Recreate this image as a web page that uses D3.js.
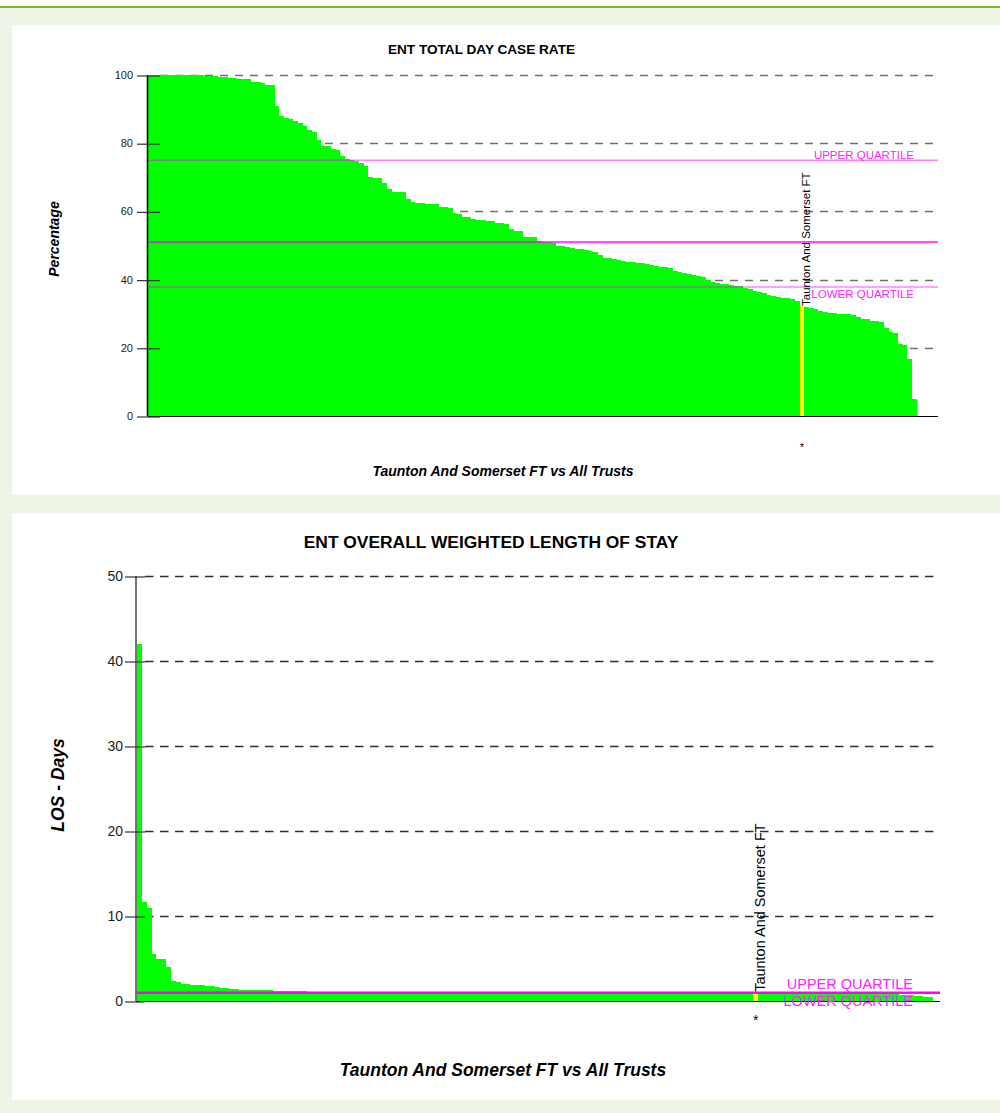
<!DOCTYPE html>
<html>
<head>
<meta charset="utf-8">
<script src="https://cdn.jsdelivr.net/npm/d3@7"></script>
<style>
  html, body { margin: 0; padding: 0; background: #ffffff; }
  svg { display: block; font-family: "Liberation Sans", Arial, sans-serif; }
</style>
</head>
<body>
<svg id="chart" width="1000" height="1113"></svg>
<script>
// ---------------- DATA ----------------
const trustName = "Taunton And Somerset FT";
const xAxisLabel = "Taunton And Somerset FT vs All Trusts";

// Chart 1: ENT total day case rate (%) – all trusts, sorted descending
const dayCaseTitle = "ENT TOTAL DAY CASE RATE";
const dayCaseYLabel = "Percentage";
const dayCaseTicks = [0, 20, 40, 60, 80, 100];
const dayCaseRate = [
  100, 100, 100, 100, 100, 100, 100, 100, 100, 100,
  99.9, 99.9, 99.8, 99.8, 99.7, 99.5, 99.4, 99.2, 99.0, 98.9,
  98.8, 98.7, 97.9, 97.9, 97.8, 97.1, 97.0, 91.0, 88.1, 87.5,
  87.0, 86.5, 85.8, 85.1, 83.8, 83.4, 80.9, 79.3, 79.2, 78.2,
  78.1, 76.2, 75.3, 75.2, 74.9, 74.1, 73.3, 70.0, 69.9, 69.7,
  68.2, 66.7, 65.8, 65.7, 65.6, 63.6, 62.8, 62.6, 62.4, 62.3,
  62.2, 62.1, 61.4, 61.2, 61.1, 59.6, 59.2, 58.4, 58.3, 57.9,
  57.5, 57.4, 57.3, 57.2, 56.7, 56.5, 56.2, 54.7, 54.3, 54.2,
  52.6, 52.5, 52.4, 51.3, 51.1, 51.0, 50.8, 49.9, 49.8, 49.6,
  49.2, 49.0, 48.9, 48.7, 48.4, 48.2, 47.2, 46.4, 46.2, 46.0,
  45.7, 45.4, 45.3, 45.1, 44.9, 44.8, 44.6, 44.3, 43.9, 43.8,
  43.6, 43.3, 42.4, 42.2, 41.9, 41.6, 41.3, 41.1, 40.9, 39.9,
  39.2, 39.0, 38.8, 38.6, 38.4, 38.2, 38.0, 37.5, 37.2, 36.8,
  36.4, 36.0, 35.6, 35.1, 34.9, 34.7, 34.5, 34.2, 33.8, 32.4,
  31.9, 31.6, 31.4, 30.9, 30.4, 30.3, 30.2, 29.9, 29.8, 29.8,
  29.7, 29.1, 28.5, 28.4, 27.9, 27.8, 27.6, 25.9, 24.7, 24.4,
  21.0, 20.8, 16.7, 5.0
];
const dayCaseHighlight = 139;               // index of Taunton And Somerset FT
const dayCaseQuartiles = [75.0, 51.0, 37.8]; // upper, median, lower

// Chart 2: ENT overall weighted length of stay (days)
const losTitle = "ENT OVERALL WEIGHTED LENGTH OF STAY";
const losYLabel = "LOS - Days";
const losTicks = [0, 10, 20, 30, 40, 50];
const losDays = [
  42.0, 11.6, 11.0, 5.5, 5.0, 5.0, 4.0,
  2.4, 2.2, 2.05, 2.0, 1.9, 1.88, 1.86, 1.78, 1.75, 1.62, 1.58, 1.48, 1.45, 1.42,
  1.34, 1.32, 1.30, 1.29, 1.28, 1.27,
  1.25, 1.23, 1.21, 1.19, 1.17, 1.15, 1.14, 1.12, 1.11, 1.10, 1.08, 1.07, 1.06, 1.05, 1.04,
  1.03, 1.03, 1.03, 1.02, 1.02, 1.02, 1.02, 1.01, 1.01, 1.01,
  1.01, 1.00, 1.00, 1.00, 1.00, 1.00, 1.00, 0.99, 0.99, 0.99,
  0.99, 0.99, 0.99, 0.99, 0.98, 0.98, 0.98, 0.98, 0.98, 0.98,
  0.98, 0.98, 0.97, 0.97, 0.97, 0.97, 0.97, 0.97, 0.97, 0.97,
  0.97,
  0.97, 0.96, 0.96, 0.96, 0.96, 0.96, 0.96, 0.96, 0.96, 0.96,
  0.95, 0.95, 0.95, 0.95, 0.95, 0.95, 0.95, 0.95, 0.95, 0.95,
  0.94, 0.94, 0.94, 0.94, 0.94, 0.94, 0.94, 0.94, 0.94, 0.93,
  0.93, 0.93, 0.93, 0.93, 0.93, 0.93, 0.93, 0.92, 0.92, 0.92,
  0.92,
  0.92, 0.91, 0.91,
  0.90,
  0.90, 0.90, 0.90, 0.89, 0.89, 0.89, 0.89, 0.88, 0.88, 0.88,
  0.88, 0.87, 0.87, 0.87, 0.86, 0.86, 0.86, 0.85, 0.85, 0.85,
  0.84, 0.84, 0.83, 0.83, 0.82, 0.82, 0.81, 0.80, 0.78, 0.76,
  0.72, 0.68, 0.64, 0.58, 0.52, 0.45
];
const losHighlight = 127;
const losQuartiles = [1.03, 0.97, 0.92];

const quartileNames = ["UPPER QUARTILE", "LOWER QUARTILE"];

// ---------------- DRAW ----------------
const svg = d3.select("#chart");
const W = 1000, H = 1113;

svg.append("rect").attr("width", W).attr("height", H).attr("fill", "#eef4e5");
svg.append("rect").attr("x", 0).attr("y", 0).attr("width", W).attr("height", 6).attr("fill", "#ffffff");
svg.append("rect").attr("x", 0).attr("y", 6).attr("width", W).attr("height", 2).attr("fill", "#86b817");

function drawChart(cfg) {
  const g = svg.append("g");
  // panel
  g.append("rect").attr("x", cfg.panel[0]).attr("y", cfg.panel[1])
    .attr("width", cfg.panel[2]).attr("height", cfg.panel[3]).attr("fill", "#ffffff");

  const k = cfg.scale;
  const x = d3.scaleBand().domain(cfg.values.map((d, i) => i)).range(cfg.barRange).padding(0);
  const y = d3.scaleLinear().domain([cfg.ticks[0], cfg.ticks[cfg.ticks.length - 1]]).range([cfg.y0, cfg.yTop]);

  // gridlines (behind bars)
  g.append("g").selectAll("line").data(cfg.ticks.slice(1)).join("line")
    .attr("x1", cfg.gridX[0]).attr("x2", cfg.gridX[1])
    .attr("y1", d => Math.round(y(d)) + 0.5).attr("y2", d => Math.round(y(d)) + 0.5)
    .attr("stroke", cfg.gridColor).attr("stroke-width", cfg.gridWidth)
    .attr("stroke-dasharray", cfg.dash);

  // bars
  g.append("g").selectAll("rect").data(cfg.values).join("rect")
    .attr("x", (d, i) => x(i))
    .attr("width", x.bandwidth() + 0.05)
    .attr("y", d => y(d))
    .attr("height", d => cfg.y0 - y(d))
    .attr("fill", (d, i) => i === cfg.highlight ? "#ffff00" : "#00ff00")
    .attr("shape-rendering", "crispEdges");

  // axis lines
  g.append("line").attr("x1", cfg.axisX).attr("x2", cfg.axisX)
    .attr("y1", cfg.yTop).attr("y2", cfg.y0)
    .attr("stroke", cfg.axisColor).attr("stroke-width", 1.5);
  g.append("line").attr("x1", cfg.axisX).attr("x2", cfg.gridX[1])
    .attr("y1", cfg.y0 + 0.5).attr("y2", cfg.y0 + 0.5)
    .attr("stroke", "#000").attr("stroke-width", 1.2);

  // y axis ticks + labels
  const ax = g.append("g").attr("transform", `translate(${cfg.tickRight},0)`)
    .call(d3.axisLeft(y).tickValues(cfg.ticks).tickSize(cfg.tickLen).tickPadding(cfg.tickPad).tickFormat(d3.format("d")));
  ax.select(".domain").remove();
  ax.selectAll(".tick line").attr("stroke", "#333").attr("stroke-width", 1.2)
    .attr("transform", "translate(0,0.5)");
  ax.selectAll(".tick text").attr("font-family", "Liberation Sans, Arial, sans-serif")
    .attr("font-size", cfg.tickFont).attr("fill", "#222");

  // quartile lines
  const qStyles = cfg.quartileStyle;
  g.append("g").selectAll("line").data(cfg.quartiles).join("line")
    .attr("x1", cfg.axisX + 1).attr("x2", cfg.gridX[1])
    .attr("y1", d => y(d)).attr("y2", d => y(d))
    .attr("stroke", "#ff00ff")
    .attr("stroke-width", (d, i) => qStyles[i].w)
    .attr("stroke-opacity", (d, i) => qStyles[i].o);

  // quartile labels
  g.append("text").attr("x", cfg.qLabelRight).attr("y", y(cfg.quartiles[0]) - cfg.qUpOff)
    .attr("text-anchor", "end").attr("font-size", cfg.qFont).attr("fill", "#ff22ff")
    .text(quartileNames[0]);
  g.append("text").attr("x", cfg.qLabelRight).attr("y", y(cfg.quartiles[2]) + cfg.qLowOff)
    .attr("text-anchor", "end").attr("font-size", cfg.qFont).attr("fill", "#ff22ff")
    .text(quartileNames[1]);

  // highlighted trust label (vertical)
  const hx = x(cfg.highlight) + x.bandwidth() / 2;
  const hy = y(cfg.values[cfg.highlight]);
  g.append("text")
    .attr("transform", `translate(${hx + cfg.hlBase},${hy + cfg.hlStart}) rotate(-90)`)
    .attr("font-size", cfg.qFont).attr("fill", "#000")
    .text(trustName);
  g.append("text").attr("x", hx).attr("y", cfg.starY)
    .attr("text-anchor", "middle").attr("font-size", cfg.tickFont).attr("fill", "#000")
    .text("*");

  // titles
  g.append("text").attr("x", cfg.titleX).attr("y", cfg.titleY)
    .attr("text-anchor", "middle").attr("font-weight", "bold")
    .attr("font-size", cfg.titleFont).attr("fill", "#000")
    .text(cfg.title);
  g.append("text").attr("x", cfg.xLabelX).attr("y", cfg.xLabelY)
    .attr("text-anchor", "middle").attr("font-weight", "bold").attr("font-style", "italic")
    .attr("font-size", cfg.labelFont).attr("fill", "#000")
    .text(xAxisLabel);
  g.append("text")
    .attr("transform", `translate(${cfg.yLabelX},${cfg.yLabelY}) rotate(-90)`)
    .attr("text-anchor", "middle").attr("font-weight", "bold").attr("font-style", "italic")
    .attr("font-size", cfg.labelFont).attr("fill", "#000")
    .text(cfg.yLabel);
}

drawChart({
  panel: [12, 25, 988, 470],
  scale: 1,
  values: dayCaseRate, highlight: dayCaseHighlight, quartiles: dayCaseQuartiles,
  ticks: dayCaseTicks,
  barRange: [148, 916.7], y0: 416, yTop: 75,
  gridX: [160, 938], gridColor: "#6f6f6f", gridWidth: 1.6, dash: "8,7",
  axisX: 147.5, axisColor: "#000",
  tickRight: 160, tickLen: 23, tickPad: 4, tickFont: "11px",
  quartileStyle: [{w: 1.5, o: 0.5}, {w: 2.2, o: 0.7}, {w: 1.5, o: 0.5}],
  qLabelRight: 914, qUpOff: 1.5, qLowOff: 10.5, qFont: "11.5px",
  hlBase: 8, hlStart: 0.5, starY: 451,
  title: dayCaseTitle, titleX: 481.5, titleY: 54, titleFont: "13.6px",
  xLabelX: 503, xLabelY: 476, labelFont: "14px",
  yLabel: dayCaseYLabel, yLabelX: 58.5, yLabelY: 239
});

drawChart({
  panel: [12, 513, 988, 587],
  scale: 1.27,
  values: losDays, highlight: losHighlight, quartiles: losQuartiles,
  ticks: losTicks,
  barRange: [137, 933], y0: 1001, yTop: 576,
  gridX: [145, 940], gridColor: "#2e2e2e", gridWidth: 1.3, dash: "8.5,6.5",
  axisX: 136, axisColor: "#444",
  tickRight: 145, tickLen: 20, tickPad: 2, tickFont: "14px",
  quartileStyle: [{w: 1.6, o: 1}, {w: 1.6, o: 1}, {w: 1.6, o: 1}],
  qLabelRight: 913, qUpOff: 3, qLowOff: 13, qFont: "14.5px",
  hlBase: 9, hlStart: -1.5, starY: 1025,
  title: losTitle, titleX: 491, titleY: 548, titleFont: "17.4px",
  xLabelX: 503, xLabelY: 1076, labelFont: "17.5px",
  yLabel: losYLabel, yLabelX: 64, yLabelY: 785
});
</script>
</body>
</html>
